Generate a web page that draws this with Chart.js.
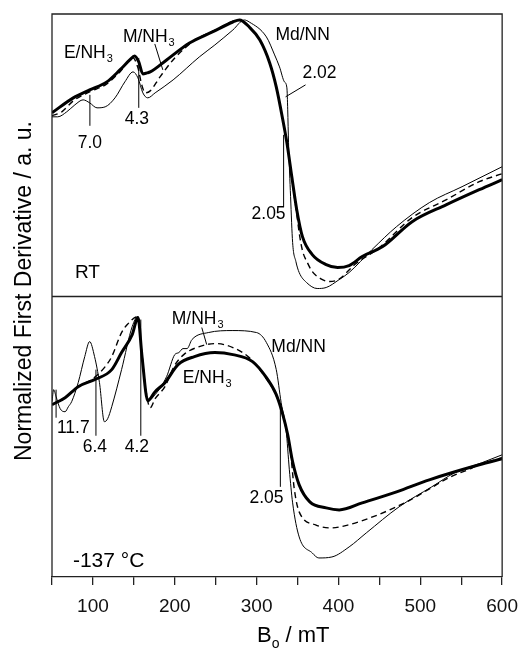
<!DOCTYPE html>
<html><head><meta charset="utf-8">
<script src="https://cdn.jsdelivr.net/npm/chart.js@4/dist/chart.umd.min.js"></script>
<style>html,body{margin:0;padding:0;background:#fff}#wrap{position:relative;width:528px;height:648px}</style>
</head><body><div id="wrap"><canvas id="c" width="528" height="648"></canvas></div>
<script>
// ---------- DATA (B0 in mT, derivative in a.u.) ----------
// Room temperature panel
const rtE_B  = [50,76,96,117,133,145,151,156,161,166,170,190,218,246,271,279,291,304,316,324,332,337,343,349,356,368,385,399,413,429,454,490,532,572,600];
const rtE_V  = [183,198,206,214,226,236,240,234,222,223,224,236,253,264,274,276,269,256,233,209,176,153,119,86,59,41,31,28,30,39,49,74,91,106,116];
const rtM_B  = [50,62,76,96,117,133,149,155,160,164,170,182,200,225,250,272,280,291,304,316,324,332,337,343,349,352,356,362,368,378,389,400,420,450,490,532,572,600];
const rtM_V  = [180,184,195,204,212,224,238,228,210,203,205,219,238,256,266,275,276,269,256,233,209,176,153,117,82,63,45,33,24,17,14,16,31,48,78,96,114,122];
const rtMd_B = [50,57,68,78,88,96,105,115,127,139,149,155,161,167,176,198,230,249,271,285,291,312,322,328,334,337,338,339,341.5,344,348,352,361,374,385,401,413,441,471,511,551,600];
const rtMd_V = [179,179,184,191,196,193,188,189,198,214,224,218,203,198,203,216,239,251,266,276,274,259,241,229,214,208,186,153,99,53,34,23,13,7,8,16,23,46,69,93,109,129];
// -137 °C panel
const ltE_B  = [50,66,82,102,123,135,148,155,160,167,176,188,204,224,249,271,295,312,324,332,338,344,352,365,385,401,429,471,511,572,600];
const ltE_V  = [172,179,190,197,207,224,242,259,220,176,185,194,212,220,224,222,215,199,182,162,142,115,92,75,69,67,74,85,97,112,118];
const ltM_B  = [50,66,82,100,115,123,135,142,155,160,165,170,176,188,199,211,230,250,271,291,310,324,332,338,341,346,352,372,391,412,448,488,509,537,558,572,600];
const ltM_V  = [172,179,190,198,210,220,244,252,260,222,185,169,178,190,210,222,230,233,229,219,200,181,162,140,128,88,65,52,49,52,62,77,87,100,107,112,119];
const ltMd_B = [50,52,55,60,66,70,74,82,90,96,102,108,114,118,123,135,148,155,160,167,176,190,200,205,210,215,221,241,271,300,312,324,330,336,340,344,352,368,376,392,413,434,474,514,542,575,600];
const ltMd_V = [175,187,180,168,165,170,175,194,220,235,220,194,155,158,170,207,250,260,220,176,182,200,222,224,228,228,237,244,246,244,234,207,174,147,107,74,40,24,19,20,30,44,70,90,104,114,122];

const xMin = 50, xMax = 600, xStep = 50;
const yTitle = 'Normalized First Derivative / a. u.';
const FONT = '"Liberation Sans", Arial, Helvetica, sans-serif';

// annotations: labels and leader lines, in data coordinates of each panel
const labels = [
  {p:'yTop', t:'E/NH', s:'3', x:64.6, y:238, a:'left'},
  {p:'yTop', t:'M/NH', s:'3', x:136.6, y:254, a:'left'},
  {p:'yTop', t:'Md/NN', x:323, y:256, a:'left'},
  {p:'yTop', t:'2.02', x:356, y:218, a:'left'},
  {p:'yTop', t:'7.0', x:96.3, y:148, a:'center'},
  {p:'yTop', t:'4.3', x:153.7, y:172, a:'center'},
  {p:'yTop', t:'2.05', x:314.6, y:77, a:'center'},
  {p:'yTop', t:'RT', x:78, y:18, a:'left', f:19},
  {p:'yBot', t:'M/NH', s:'3', x:196.3, y:253, a:'left'},
  {p:'yBot', t:'Md/NN', x:318, y:225, a:'left'},
  {p:'yBot', t:'E/NH', s:'3', x:209.8, y:194, a:'left'},
  {p:'yBot', t:'11.7', x:56, y:144, a:'left'},
  {p:'yBot', t:'6.4', x:102.4, y:125, a:'center'},
  {p:'yBot', t:'4.2', x:153.7, y:125, a:'center'},
  {p:'yBot', t:'2.05', x:312, y:74, a:'center'},
  {p:'yBot', t:'-137 °C', x:75.6, y:10, a:'left', f:21}
];
const leaders = [
  {p:'yTop', x1:175.6, y1:252, x2:185.4, y2:226},
  {p:'yTop', x1:359.8, y1:211, x2:335.4, y2:199},
  {p:'yTop', x1:96.3, y1:201, x2:96.3, y2:170},
  {p:'yTop', x1:156, y1:238, x2:156, y2:188},
  {p:'yTop', x1:333, y1:161, x2:333, y2:89},
  {p:'yBot', x1:233, y1:249, x2:239, y2:232},
  {p:'yBot', x1:55, y1:187, x2:55, y2:159},
  {p:'yBot', x1:103.7, y1:207, x2:103.7, y2:141},
  {p:'yBot', x1:158.5, y1:257, x2:158.5, y2:141},
  {p:'yBot', x1:329, y1:172, x2:329, y2:90}
];

const pts = (b, v) => b.map((x, i) => ({x, y: v[i]}));
const ds = (data, axis, w, dash) => ({data, yAxisID: axis, borderColor:'#000', borderWidth:w,
  borderDash: dash || [], pointRadius:0, fill:false, cubicInterpolationMode:'monotone'});

const deco = {
  id:'deco',
  afterDraw(chart){
    const {ctx, scales} = chart;
    const X = scales.x, T = scales.yTop, B = scales.yBot;
    const L = X.left, R = X.right, top = Math.min(T.top, B.top), bot = Math.max(T.bottom, B.bottom);
    ctx.save();
    ctx.strokeStyle = '#222'; ctx.lineWidth = 1.3;
    ctx.beginPath();
    ctx.moveTo(L, bot); ctx.lineTo(L, top); ctx.lineTo(R, top); ctx.lineTo(R, bot);
    const mid = Math.round(T.bottom) + 0.5;
    ctx.moveTo(L, mid); ctx.lineTo(R, mid);
    ctx.stroke();
    // leaders
    ctx.strokeStyle = '#000'; ctx.lineWidth = 1;
    leaders.forEach(l => {
      const Y = scales[l.p];
      ctx.beginPath();
      ctx.moveTo(X.getPixelForValue(l.x1), Y.getPixelForValue(l.y1));
      ctx.lineTo(X.getPixelForValue(l.x2), Y.getPixelForValue(l.y2));
      ctx.stroke();
    });
    // labels
    ctx.fillStyle = '#000'; ctx.textBaseline = 'alphabetic';
    labels.forEach(l => {
      const Y = scales[l.p];
      const fs = l.f || 17.5;
      const px = X.getPixelForValue(l.x), py = Y.getPixelForValue(l.y);
      ctx.font = fs + 'px ' + FONT;
      const w = ctx.measureText(l.t).width;
      ctx.font = '11px ' + FONT;
      const ws = l.s ? ctx.measureText(l.s).width : 0;
      let left = px;
      if (l.a === 'center') left = px - (w + ws) / 2;
      ctx.textAlign = 'left';
      ctx.font = fs + 'px ' + FONT;
      ctx.fillText(l.t, left, py);
      if (l.s) { ctx.font = '11px ' + FONT; ctx.fillText(l.s, left + w + 1, py + 4); }
    });
    // axis titles
    ctx.font = '22px ' + FONT;
    ctx.textAlign = 'left';
    const bx = 257, by = 642;
    ctx.fillText('B', bx, by);
    const wB = ctx.measureText('B').width;
    ctx.font = '14px ' + FONT;
    ctx.fillText('o', bx + wB, by + 6);
    const wo = ctx.measureText('o').width;
    ctx.font = '22px ' + FONT;
    ctx.fillText(' / mT', bx + wB + wo, by);
    ctx.save();
    ctx.translate(31, 291); ctx.rotate(-Math.PI / 2);
    ctx.textAlign = 'center'; ctx.font = '23px ' + FONT;
    ctx.fillText(yTitle, 0, 0);
    ctx.restore();
    ctx.restore();
  }
};

const hiddenY = (min, max) => ({
  type:'linear', min, max, stack:'panels', stackWeight:1, position:'left',
  ticks:{display:false}, grid:{display:false, drawTicks:false}, border:{display:false},
  afterFit(s){ s.width = 0; }
});

new Chart(document.getElementById('c'), {
  type:'line',
  data:{datasets:[
    ds(pts(rtE_B, rtE_V), 'yTop', 3),
    ds(pts(rtM_B, rtM_V), 'yTop', 1.4, [6,4]),
    ds(pts(rtMd_B, rtMd_V), 'yTop', 1),
    ds(pts(ltE_B, ltE_V), 'yBot', 3),
    ds(pts(ltM_B, ltM_V), 'yBot', 1.4, [6,4]),
    ds(pts(ltMd_B, ltMd_V), 'yBot', 1)
  ]},
  options:{
    responsive:false, animation:false, devicePixelRatio:1,
    layout:{padding:{left:52, right:25, top:14, bottom:0}},
    plugins:{legend:{display:false}, tooltip:{enabled:false}},
    scales:{
      x:{type:'linear', min:xMin, max:xMax, position:'bottom',
        afterFit(s){ s.height = 71; },
        ticks:{stepSize:xStep, autoSkip:false, maxRotation:0, padding:10, color:'#111',
          font:{family:FONT, size:19}, callback:v => v % 100 === 0 ? String(v) : ''},
        grid:{drawOnChartArea:false, drawTicks:true, tickLength:8, color:'#222', lineWidth:1.3},
        border:{display:true, color:'#222', width:1.3}},
      yBot: hiddenY(0, 281),
      yTop: hiddenY(0, 282)
    }
  },
  plugins:[deco]
});
</script></body></html>
